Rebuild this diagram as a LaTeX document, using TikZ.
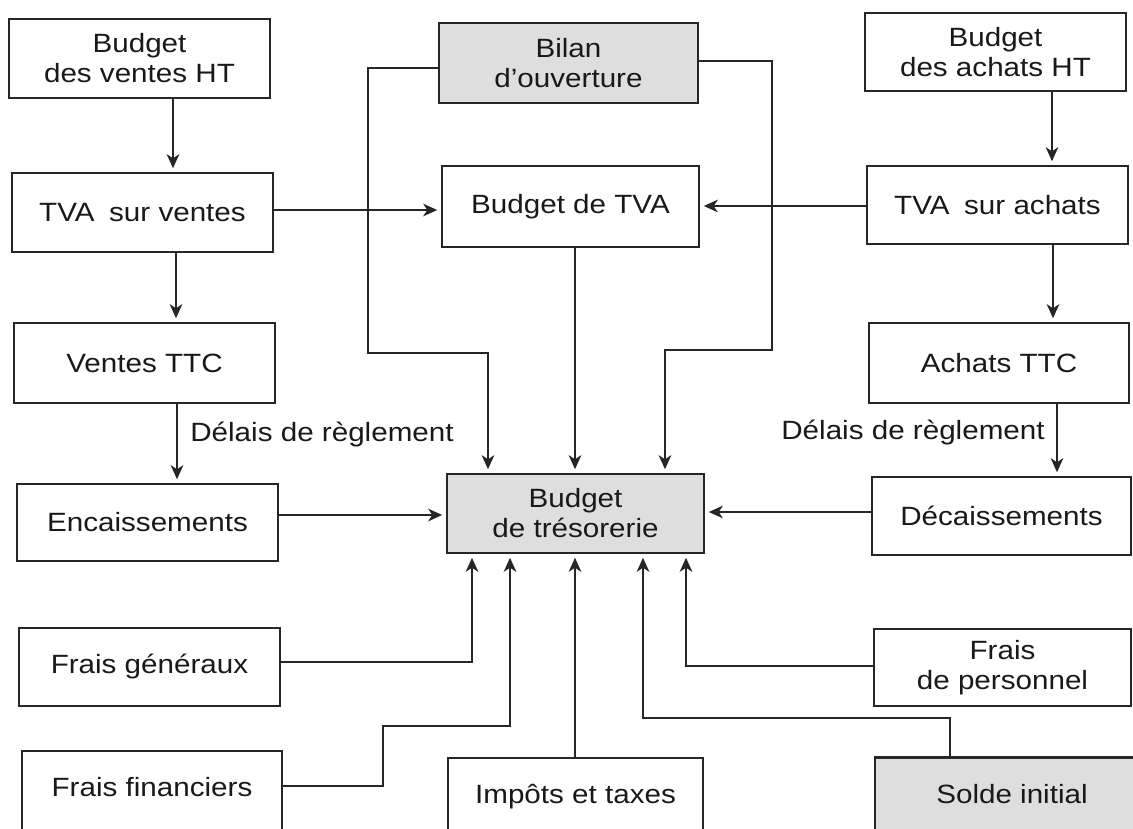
\documentclass[tikz,border=0pt]{standalone}
\usepackage{fontspec}
\setmainfont{Liberation Sans}[FakeStretch=1.12]
\usetikzlibrary{arrows.meta}
\begin{document}
\begin{tikzpicture}[x=0.025cm,y=-0.025cm,
  bx/.style={draw=black!85, line width=1.5pt, inner sep=0pt, outer sep=0pt, align=center,
    font=\fontsize{18.8}{21.3}\selectfont, text=black!90},
  shaded/.style={fill=black!13},
  arr/.style={draw=black!85, line width=1.3pt, -{Stealth[length=10pt,width=9pt,inset=3pt]}, shorten >=0.12cm},
  lbl/.style={font=\fontsize{18.8}{21.3}\selectfont, text=black!90, inner sep=0pt}]
\useasboundingbox (0,0) rectangle (1133,829);
\fill[white] (0,0) rectangle (1133,829);
\clip (0,0) rectangle (1133,829);

% boxes
\node[bx, minimum width=6.525cm, minimum height=1.975cm] (bvht) at (139.5,58.5) {Budget\\des ventes HT};
\node[bx, minimum width=6.525cm, minimum height=1.975cm] (tvav) at (142.5,212.5) {TVA\hspace{0.55em}sur ventes};
\node[bx, minimum width=6.525cm, minimum height=2.0cm] (vttc) at (144.5,363) {Ventes TTC};
\node[bx, minimum width=6.525cm, minimum height=1.925cm] (enc) at (147.5,522.5) {Encaissements};
\node[bx, minimum width=6.525cm, minimum height=1.95cm] (fg) at (149.5,667) {Frais généraux};
\node[bx, minimum width=6.5cm, minimum height=2.3cm] (ff) at (152,797) {\raisebox{14pt}{Frais financiers}};

\node[bx, shaded, minimum width=6.475cm, minimum height=2.0cm] (bilan) at (568.5,63) {Bilan\\d’ouverture};
\node[bx, minimum width=6.425cm, minimum height=2.025cm] (btva) at (570.5,206.5) {Budget de TVA};
\node[bx, shaded, minimum width=6.425cm, minimum height=1.975cm] (tres) at (575.5,513.5) {Budget\\de trésorerie};
\node[bx, minimum width=6.375cm, minimum height=2.3cm] (imp) at (575.5,804) {\raisebox{14pt}{Impôts et taxes}};

\node[bx, minimum width=6.525cm, minimum height=1.95cm] (bait) at (995.5,52) {Budget\\des achats HT};
\node[bx, minimum width=6.525cm, minimum height=1.95cm] (tvaa) at (997.5,205) {TVA\hspace{0.55em}sur achats};
\node[bx, minimum width=6.5cm, minimum height=2.0cm] (attc) at (999,363) {Achats TTC};
\node[bx, minimum width=6.475cm, minimum height=1.95cm] (dec) at (1001.5,516) {Décaissements};
\node[bx, minimum width=6.425cm, minimum height=1.925cm] (fp) at (1002.5,667.5) {Frais\\de personnel};
\node[bx, shaded, minimum width=6.85cm, minimum height=2.3cm] (solde) at (1012,803.5) {\raisebox{14pt}{Solde initial}};

% labels
\node[lbl] (dl1) at (322,435) {Délais de règlement};
\node[lbl] (dl2) at (913,433) {Délais de règlement};

% helper coordinates
\coordinate (c173) at (173,0);
\coordinate (c176) at (176,0);
\coordinate (c177) at (177,0);
\coordinate (c1052) at (1052,0);
\coordinate (c1053) at (1053,0);
\coordinate (c1057) at (1057,0);
\coordinate (c368) at (368,0);
\coordinate (c488) at (488,0);
\coordinate (c772) at (772,0);
\coordinate (c665) at (665,0);
\coordinate (c575) at (575,0);
\coordinate (c472) at (472,0);
\coordinate (c383) at (383,0);
\coordinate (c510) at (510,0);
\coordinate (c686) at (686,0);
\coordinate (c950) at (950,0);
\coordinate (c643) at (643,0);
\coordinate (r210) at (0,210);
\coordinate (r206) at (0,206);
\coordinate (r515) at (0,515);
\coordinate (r512) at (0,512);
\coordinate (r68) at (0,68);
\coordinate (r61) at (0,61);
\coordinate (r353) at (0,353);
\coordinate (r350) at (0,350);
\coordinate (r662) at (0,662);
\coordinate (r786) at (0,786);
\coordinate (r726) at (0,726);
\coordinate (r666) at (0,666);
\coordinate (r718) at (0,718);

% connectors
\draw[arr] (bvht.south -| c173) -- (tvav.north -| c173);
\draw[arr] (tvav.south -| c176) -- (vttc.north -| c176);
\draw[arr] (vttc.south -| c177) -- (enc.north -| c177);
\draw[arr] (tvav.east |- r210) -- (btva.west |- r210);
\draw[arr] (tvaa.west |- r206) -- (btva.east |- r206);
\draw[arr] (bait.south -| c1052) -- (tvaa.north -| c1052);
\draw[arr] (tvaa.south -| c1053) -- (attc.north -| c1053);
\draw[arr] (attc.south -| c1057) -- (dec.north -| c1057);
\draw[arr] (enc.east |- r515) -- (tres.west |- r515);
\draw[arr] (dec.west |- r512) -- (tres.east |- r512);
\draw[arr] (bilan.west |- r68) -| (c368 |- r353) -| (tres.north -| c488);
\draw[arr] (bilan.east |- r61) -| (c772 |- r350) -| (tres.north -| c665);
\draw[arr] (btva.south -| c575) -- (tres.north -| c575);
\draw[arr] (fg.east |- r662) -| (tres.south -| c472);
\draw[arr] (ff.east |- r786) -| (c383 |- r726) -| (tres.south -| c510);
\draw[arr] (imp.north -| c575) -- (tres.south -| c575);
\draw[arr] (fp.west |- r666) -| (tres.south -| c686);
\draw[arr] (solde.north -| c950) |- (c643 |- r718) -- (tres.south -| c643);
\end{tikzpicture}
\end{document}
